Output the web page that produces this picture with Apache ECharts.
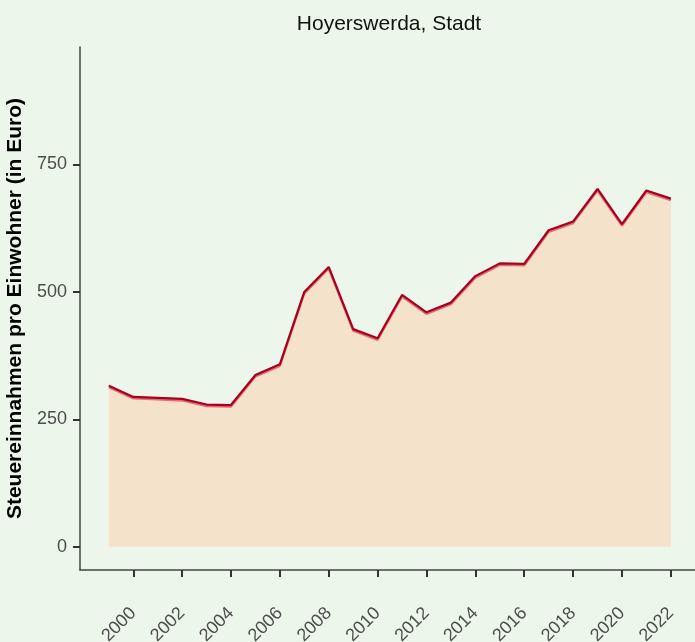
<!DOCTYPE html>
<html>
<head>
<meta charset="utf-8">
<script src="https://cdn.jsdelivr.net/npm/echarts@6/dist/echarts.min.js"></script>
<style>
html,body{margin:0;padding:0;background:#EDF6EB;}
#chart{width:695px;height:642px;}
</style>
</head>
<body>
<div id="chart"></div>
<script>
const years = [1999,2000,2001,2002,2003,2004,2005,2006,2007,2008,2009,2010,2011,2012,2013,2014,2015,2016,2017,2018,2019,2020,2021,2022];
const values = [316,294,292,290,279,278,337,358,500,549,427,409,494,460,479,531,556,555,621,638,702,633,699,683];
const yTicks = [0,250,500,750];
const xTicks = [2000,2002,2004,2006,2008,2010,2012,2014,2016,2018,2020,2022];
const titleText = 'Hoyerswerda, Stadt';
const yName = 'Steuereinnahmen pro Einwohner (in Euro)';

const data = years.map((y,i)=>[y, values[i]]);
const chart = echarts.init(document.getElementById('chart'), null, {renderer:'canvas'});
chart.setOption({
  backgroundColor:'#EDF6EB',
  animation:false,
  title:{text:titleText,left:384,textAlign:'center',top:9,
    textStyle:{fontFamily:'Liberation Sans, Arial, sans-serif',fontSize:21,fontWeight:'normal',color:'#111'}},
  grid:{left:80,right:0,top:47,bottom:72,containLabel:false,outerBoundsMode:'none'},
  xAxis:{type:'value',min:1997.82,max:2022.99,
    axisLine:{show:true,onZero:false,lineStyle:{color:'#444',width:1.5}},
    axisTick:{show:true,length:7,lineStyle:{color:'#333',width:2},customValues:xTicks},
    axisLabel:{customValues:xTicks,rotate:45,margin:40.5,align:'right',verticalAlign:'middle',
      color:'#4d4d4d',fontSize:18,fontFamily:'Liberation Sans, Arial, sans-serif',formatter:v=>String(v)},
    splitLine:{show:false}},
  yAxis:{type:'value',min:-45.7,max:980.6,
    name:yName,nameLocation:'middle',nameRotate:90,nameGap:52,
    nameTextStyle:{fontFamily:'Liberation Sans, Arial, sans-serif',fontSize:21,fontWeight:'bold',color:'#000'},
    axisLine:{show:true,onZero:false,lineStyle:{color:'#444',width:1.5}},
    axisTick:{show:true,length:7,lineStyle:{color:'#333',width:2},customValues:yTicks},
    axisLabel:{customValues:yTicks,margin:13,color:'#4d4d4d',fontSize:18,
      fontFamily:'Liberation Sans, Arial, sans-serif',formatter:v=>String(v)},
    splitLine:{show:false}},
  series:[{
    type:'line',data:data,symbol:'none',
    lineStyle:{color:'#A8001E',width:2.2,shadowColor:'rgba(215,70,90,0.75)',shadowBlur:0,shadowOffsetY:1.6},
    areaStyle:{color:'#F5E2CB',opacity:1,origin:'auto'}
  }]
});
</script>
</body>
</html>
